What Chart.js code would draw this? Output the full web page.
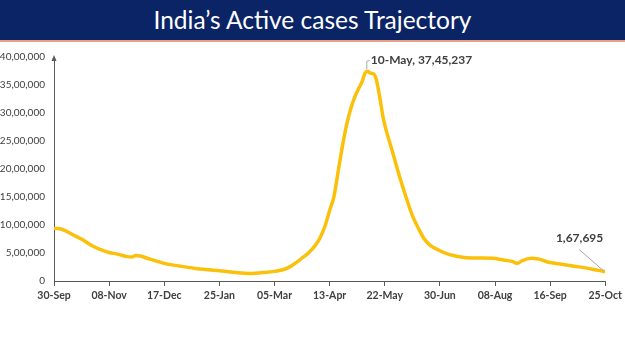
<!DOCTYPE html>
<html>
<head>
<meta charset="utf-8">
<script src="https://cdn.jsdelivr.net/npm/chart.js@4.4.1/dist/chart.umd.min.js"></script>
<style>
    body { margin: 0; background: #ffffff; width: 625px; height: 351px; overflow: hidden; }
    #banner {
        height: 40px; background: #0a2466; color: #ffffff;
        border-bottom: 2px solid #e8a08a;
        font-family: "Lato", sans-serif; font-size: 24.5px; line-height: 40px;
        text-align: center;
    }
    #wrap { position: relative; width: 625px; height: 309px; }
</style>
</head>
<body>
<div id="banner">India’s Active cases Trajectory</div>
<div id="wrap"><canvas id="activeChart" width="625" height="309"></canvas></div>
<script>
// days since 30-Sep-2020
const dayOffsets = [
    0, 6, 13, 20, 27, 34, 39, 45, 52, 55, 58, 61, 68, 78, 88, 100, 110, 117, 125, 135,
    140, 148, 156, 163, 168, 172, 176, 180, 184, 188, 192, 195, 198, 201, 204, 207, 210, 213, 216, 218,
    220, 222, 224, 226, 228, 230, 233, 236, 239, 242, 245, 248, 251, 254, 258, 262, 266, 273, 280, 290,
    300, 310, 318, 324, 328, 331, 338, 343, 350, 358, 368, 378, 385, 390
];
const activeCases = [
    940000, 920000, 830000, 740000, 630000, 550000, 510000, 480000, 435000, 430000, 455000, 445000, 390000, 315000, 270000, 225000, 200000, 185000, 160000, 140000,
    136000, 150000, 172000, 210000, 270000, 340000, 420000, 500000, 610000, 760000, 1000000, 1260000, 1500000, 1950000, 2400000, 2790000, 3080000, 3300000, 3460000, 3560000,
    3710000, 3745237, 3710000, 3700000, 3600000, 3350000, 2900000, 2600000, 2350000, 2080000, 1820000, 1580000, 1350000, 1140000, 930000, 750000, 640000, 540000, 470000, 420000,
    410000, 405000, 375000, 350000, 315000, 360000, 405000, 390000, 335000, 305000, 265000, 225000, 190000, 167695
];
const xTickLabels = ['30-Sep', '08-Nov', '17-Dec', '25-Jan', '05-Mar', '13-Apr', '22-May', '30-Jun', '08-Aug', '16-Sep', '25-Oct'];
const peakLabel = '10-May, 37,45,237';
const lastLabel = '1,67,695';

function indianFormat(n) {
    let s = Math.round(n).toString();
    if (s.length <= 3) return s;
    let last3 = s.slice(-3);
    let rest = s.slice(0, -3).replace(/\B(?=(\d{2})+(?!\d))/g, ',');
    return rest + ',' + last3;
}

const axisColor = '#595959';
const textColor = '#404040';

// callouts for the peak and the last value, plus the arrow tip of the y axis
const calloutPlugin = {
    id: 'callouts',
    afterDraw(chart) {
        const ctx = chart.ctx;
        const pts = chart.getDatasetMeta(0).data;
        const peakIdx = activeCases.indexOf(Math.max(...activeCases));
        const peak = pts[peakIdx];
        const last = pts[pts.length - 1];
        ctx.save();
        ctx.strokeStyle = '#a6a6a6';
        ctx.lineWidth = 1;
        ctx.beginPath();
        ctx.moveTo(peak.x - 1, peak.y - 2);
        ctx.lineTo(peak.x - 1, peak.y - 10);
        ctx.lineTo(peak.x + 2, peak.y - 11);
        ctx.stroke();
        ctx.beginPath();
        ctx.moveTo(last.x - 2, last.y - 1);
        ctx.lineTo(last.x - 26, last.y - 22);
        ctx.stroke();

        ctx.fillStyle = textColor;
        ctx.font = 'bold 12px Lato';
        ctx.textBaseline = 'middle';
        ctx.textAlign = 'left';
        ctx.fillText(peakLabel, peak.x + 3, peak.y - 11);
        ctx.textAlign = 'right';
        ctx.fillText(lastLabel, last.x - 2, last.y - 33);

        const a = chart.chartArea;
        ctx.fillStyle = axisColor;
        ctx.beginPath();
        ctx.moveTo(a.left, a.top - 2);
        ctx.lineTo(a.left - 2.5, a.top + 4);
        ctx.lineTo(a.left + 2.5, a.top + 4);
        ctx.closePath();
        ctx.fill();
        ctx.restore();
    }
};

const ctx = document.getElementById('activeChart').getContext('2d');
window.chart = new Chart(ctx, {
    type: 'line',
    data: {
        datasets: [{
            label: 'Active cases',
            data: dayOffsets.map((d, i) => ({ x: d, y: activeCases[i] })),
            borderColor: '#fbc00a',
            backgroundColor: '#fbc00a',
            borderWidth: 3.5,
            pointRadius: 0,
            cubicInterpolationMode: 'monotone',
            fill: false
        }]
    },
    options: {
        responsive: false,
        animation: false,
        devicePixelRatio: 1,
        layout: { padding: { top: 5, right: 17, left: 0, bottom: 0 } },
        plugins: {
            legend: { display: false },
            tooltip: { enabled: false }
        },
        scales: {
            x: {
                type: 'linear',
                min: 0,
                max: 390,
                afterFit: (scale) => { scale.height = 70; },
                grid: { drawOnChartArea: false, drawTicks: true, tickLength: 5, color: axisColor },
                border: { display: true, color: axisColor, width: 1 },
                ticks: {
                    stepSize: 39,
                    autoSkip: false,
                    maxRotation: 0,
                    padding: 3,
                    color: textColor,
                    font: { family: 'Lato', size: 10.5, weight: 'bold' },
                    callback: (v) => xTickLabels[Math.round(v / 39)]
                }
            },
            y: {
                min: 0,
                max: 4000000,
                afterFit: (scale) => { scale.width = 54; },
                grid: { drawOnChartArea: false, drawTicks: false },
                border: { display: true, color: axisColor, width: 1 },
                ticks: {
                    stepSize: 500000,
                    padding: 9,
                    color: textColor,
                    font: { family: 'Lato', size: 10 },
                    callback: (v) => indianFormat(v)
                }
            }
        }
    },
    plugins: [calloutPlugin]
});
</script>
</body>
</html>
